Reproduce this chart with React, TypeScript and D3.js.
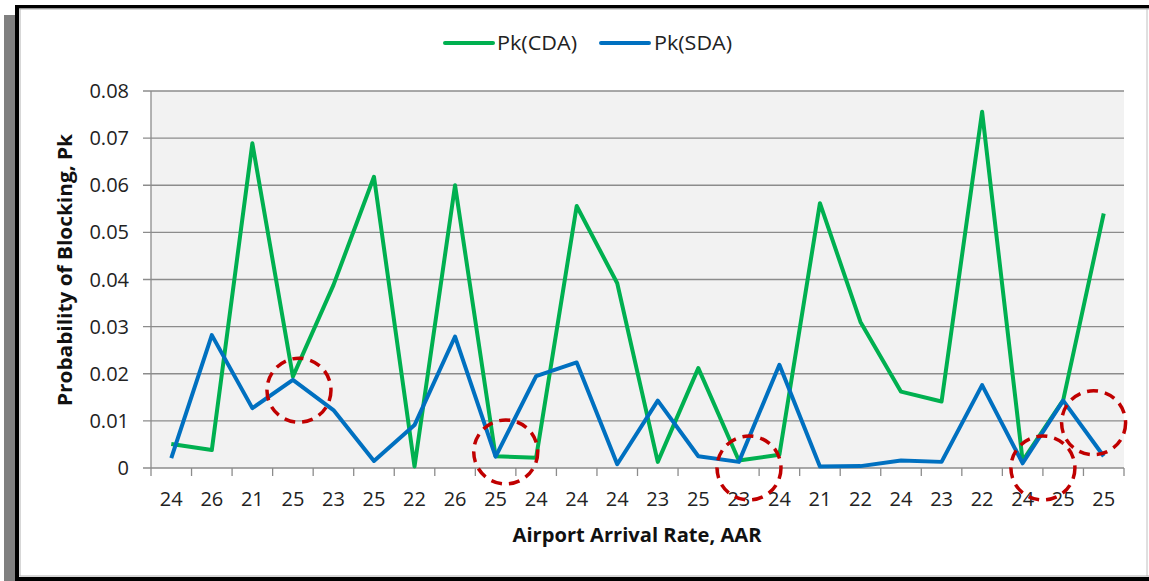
import React from "react";
import * as d3 from "d3";

const categories: string[] = ["24","26","21","25","23","25","22","26","25","24","24","24","23","25","23","24","21","22","24","23","22","24","25","25"];
const pkCDA: number[] = [0.0051,0.0038,0.0689,0.0194,0.0388,0.0618,0.0003,0.0600,0.0025,0.0022,0.0556,0.0392,0.0013,0.0212,0.0016,0.0028,0.0562,0.0310,0.0162,0.0141,0.0756,0.0015,0.0144,0.0540];
const pkSDA: number[] = [0.0021,0.0282,0.0127,0.0187,0.0123,0.0015,0.0091,0.0279,0.0024,0.0195,0.0224,0.0008,0.0143,0.0025,0.0013,0.0219,0.0003,0.0004,0.0016,0.0013,0.0176,0.0010,0.0143,0.0025];
const yTicks: number[] = [0,0.01,0.02,0.03,0.04,0.05,0.06,0.07,0.08];
const yTickLabels: string[] = ["0","0.01","0.02","0.03","0.04","0.05","0.06","0.07","0.08"];
// annotation circles: [category index (fractional), value]
const circleCat: number[] = [3.15, 8.25, 14.25, 21.5, 22.75];
const circleVal: number[] = [0.0165, 0.0034, 0.0, 0.0, 0.0096];
const seriesNames: string[] = ["Pk(CDA)", "Pk(SDA)"];

const W = 1149, H = 581;
const left = 151, right = 1124, top = 91, bottom = 468;
const GREEN = "#00b050", BLUE = "#0070c0", RED = "#c00000";
const FONT = "'Open Sans', 'Noto Sans', sans-serif";

export default function App() {
  const x = d3.scaleBand<string>().domain(categories.map((_, i) => String(i))).range([left, right]);
  const xc = (i: number) => (x(String(Math.floor(i))) as number) + x.bandwidth() * (0.5 + (i - Math.floor(i)));
  const y = d3.scaleLinear().domain([0, 0.08]).range([bottom, top]);
  const line = d3.line<number>().x((_, i) => xc(i)).y((d) => y(d));
  const bw = x.bandwidth();

  return (
    <div style={{ position: "fixed", left: 0, top: 0 }}>
      <svg width={W} height={H} style={{ display: "block" }}>
        <rect x={0} y={0} width={W} height={H} fill="#ffffff" />
        {/* shadow */}
        <rect x={4} y={15} width={11} height={H - 15} fill="#808080" />
        {/* frame */}
        <rect x={15} y={5} width={W - 15} height={3.5} fill="#000" />
        <rect x={15} y={5} width={4} height={H - 5} fill="#000" />
        <rect x={15} y={577} width={W - 15} height={4} fill="#000" />
        <line x1={19.5} y1={9} x2={W} y2={9} stroke="#b0b0b0" strokeWidth={1} />
        <line x1={20} y1={9} x2={20} y2={576} stroke="#b0b0b0" strokeWidth={1} />
        <line x1={1147} y1={9} x2={1147} y2={576} stroke="#c0c0c0" strokeWidth={1} />
        <line x1={19.5} y1={576} x2={W} y2={576} stroke="#b0b0b0" strokeWidth={1} />

        {/* plot area */}
        <rect x={left} y={top} width={right - left} height={bottom - top} fill="#f2f2f2" />
        {yTicks.map((t, i) => (
          <g key={"g" + i}>
            <line x1={left - 8} x2={right} y1={y(t)} y2={y(t)} stroke="#8c8c8c" strokeWidth={1.3} />
            <text x={129} y={y(t) + 7} textAnchor="end" fontFamily={FONT} fontSize={20} fill="#222">{yTickLabels[i]}</text>
          </g>
        ))}
        <line x1={left} x2={left} y1={top} y2={bottom + 8} stroke="#8c8c8c" strokeWidth={1.3} />
        {categories.map((c, i) => (
          <g key={"c" + i}>
            <line x1={left + bw * (i + 1)} x2={left + bw * (i + 1)} y1={bottom} y2={bottom + 8} stroke="#8c8c8c" strokeWidth={1.3} />
            <text x={xc(i)} y={506} textAnchor="middle" fontFamily={FONT} fontSize={20} fill="#222">{c}</text>
          </g>
        ))}

        {/* series */}
        <path d={line(pkCDA) || ""} fill="none" stroke={GREEN} strokeWidth={4} strokeLinejoin="round" />
        <path d={line(pkSDA) || ""} fill="none" stroke={BLUE} strokeWidth={4} strokeLinejoin="round" />

        {/* annotations */}
        {circleCat.map((c, i) => (
          <ellipse key={"e" + i} cx={xc(c)} cy={y(circleVal[i])} rx={32} ry={32} fill="none" stroke={RED} strokeWidth={3.5} strokeDasharray="11 7" />
        ))}

        {/* axis titles */}
        <text x={637} y={542} textAnchor="middle" fontFamily={FONT} fontWeight="bold" fontSize={19} fill="#111" textLength={249} lengthAdjust="spacingAndGlyphs">Airport Arrival Rate, AAR</text>
        <text transform="translate(72,270) rotate(-90)" textAnchor="middle" fontFamily={FONT} fontWeight="bold" fontSize={19} fill="#111" textLength={272} lengthAdjust="spacingAndGlyphs">Probability of Blocking, Pk</text>

        {/* legend */}
        <line x1={445} x2={493} y1={43} y2={43} stroke={GREEN} strokeWidth={4} strokeLinecap="round" />
        <text x={497} y={50} fontFamily={FONT} fontSize={20} fill="#222" textLength={80} lengthAdjust="spacingAndGlyphs">{seriesNames[0]}</text>
        <line x1={601} x2={649} y1={43} y2={43} stroke={BLUE} strokeWidth={4} strokeLinecap="round" />
        <text x={654} y={50} fontFamily={FONT} fontSize={20} fill="#222" textLength={78} lengthAdjust="spacingAndGlyphs">{seriesNames[1]}</text>
      </svg>
    </div>
  );
}
